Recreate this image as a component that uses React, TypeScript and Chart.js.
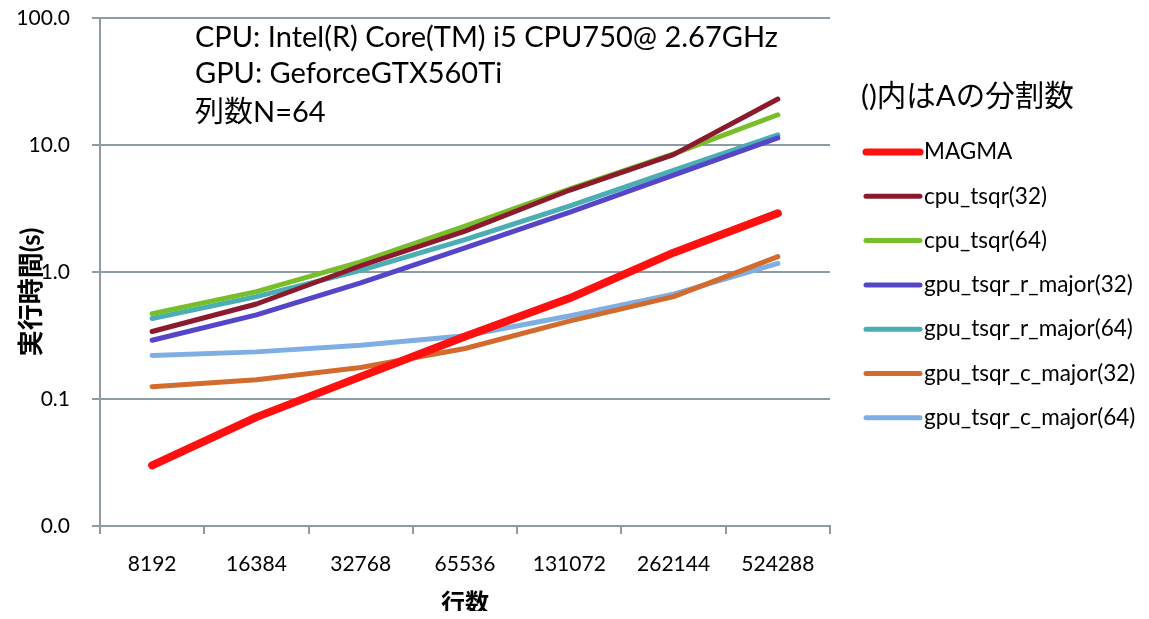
import React, { useEffect, useRef } from "react";
import { Chart, registerables } from "chart.js";

Chart.register(...registerables);

const categories = ["8192", "16384", "32768", "65536", "131072", "262144", "524288"];

const magma = [0.030, 0.072, 0.15, 0.31, 0.62, 1.42, 2.9];
const cpuTsqr32 = [0.34, 0.56, 1.12, 2.1, 4.4, 8.4, 23];
const cpuTsqr64 = [0.47, 0.70, 1.2, 2.3, 4.5, 8.5, 17.3];
const gpuR32 = [0.29, 0.46, 0.82, 1.55, 2.95, 5.8, 11.4];
const gpuR64 = [0.43, 0.64, 1.03, 1.8, 3.3, 6.3, 12.0];
const gpuC32 = [0.125, 0.142, 0.177, 0.25, 0.41, 0.64, 1.32];
const gpuC64 = [0.22, 0.235, 0.265, 0.315, 0.45, 0.67, 1.17];

const seriesNames = [
  "MAGMA",
  "cpu_tsqr(32)",
  "cpu_tsqr(64)",
  "gpu_tsqr_r_major(32)",
  "gpu_tsqr_r_major(64)",
  "gpu_tsqr_c_major(32)",
  "gpu_tsqr_c_major(64)",
];
const seriesColors = ["#ff1010", "#8b1a2e", "#78bd2a", "#5545c8", "#4aaeb4", "#d46b2e", "#7eaee4"];
const seriesWidths = [8, 5, 5, 5, 5, 5, 5];
const seriesValues = [magma, cpuTsqr32, cpuTsqr64, gpuR32, gpuR64, gpuC32, gpuC64];

const yTicks = [0.01, 0.1, 1, 10, 100];
const annotationLines = ["CPU: Intel(R) Core(TM) i5 CPU750@ 2.67GHz", "GPU: GeforceGTX560Ti", "列数N=64"];
const legendTitle = "()内はAの分割数";
const xTitle = "行数";
const yTitle = "実行時間(s)";

const FONT = "Lato, 'Noto Sans CJK JP', sans-serif";
const GRID = "#8d9ca2";

export default function App() {
  const ref = useRef<HTMLCanvasElement | null>(null);
  useEffect(() => {
    const canvas = ref.current;
    if (!canvas) return;
    const overlay = {
      id: "overlay",
      afterDraw(chart: any) {
        const ctx = chart.ctx;
        ctx.save();
        ctx.fillStyle = "#000";
        ctx.textBaseline = "middle";
        ctx.textAlign = "left";
        ctx.font = `29px ${FONT}`;
        const ay = [30, 66, 105];
        annotationLines.forEach((t, i) => ctx.fillText(t, 187, ay[i]));
        ctx.font = `29.5px ${FONT}`;
        ctx.fillText(legendTitle, 853, 88);
        ctx.font = `22.5px ${FONT}`;
        chart.data.datasets.forEach((ds: any, i: number) => {
          const y = 144 + i * 44.3;
          ctx.strokeStyle = ds.borderColor;
          ctx.lineWidth = Math.min(ds.borderWidth, 7);
          ctx.lineCap = "round";
          ctx.beginPath();
          ctx.moveTo(858, y);
          ctx.lineTo(912, y);
          ctx.stroke();
          ctx.fillStyle = "#000";
          ctx.fillText(ds.label, 916, y);
        });
        // x-axis title
        const area = chart.chartArea;
        ctx.textAlign = "center";
        ctx.font = `bold 24px ${FONT}`;
        ctx.fillText(xTitle, (area.left + area.right) / 2, 595);
        // y-axis title
        ctx.save();
        ctx.translate(24, 284);
        ctx.rotate(-Math.PI / 2);
        ctx.textAlign = "center";
        ctx.font = `bold 26px ${FONT}`;
        ctx.fillStyle = "#000";
        ctx.fillText(yTitle, 0, 0);
        ctx.restore();
        ctx.restore();
      },
    };
    const chart = new Chart(canvas, {
      type: "line",
      data: {
        labels: categories,
        datasets: seriesNames.map((name, i) => ({
          label: name,
          data: seriesValues[i],
          borderColor: seriesColors[i],
          backgroundColor: seriesColors[i],
          borderWidth: seriesWidths[i],
          borderCapStyle: "round",
          borderJoinStyle: "round",
          pointRadius: 0,
          tension: 0,
        })),
      },
      options: {
        animation: false,
        responsive: false,
        layout: { padding: { left: 0, right: 311, top: 10, bottom: 0 } },
        plugins: { legend: { display: false }, tooltip: { enabled: false } },
        scales: {
          x: {
            type: "category",
            offset: true,
            grid: {
              offset: true,
              drawOnChartArea: false,
              drawTicks: true,
              tickLength: 8,
              color: GRID,
              lineWidth: 2,
            },
            border: { display: true, color: GRID, width: 2 },
            ticks: { color: "#000", font: { family: FONT, size: 21 }, padding: 18, maxRotation: 0 },
            title: { display: false },
            afterFit(scale: any) {
              scale.height = 93;
              scale.paddingLeft = 0;
              scale.paddingRight = 0;
            },
          },
          y: {
            type: "logarithmic",
            min: 0.01,
            max: 100,
            afterBuildTicks(scale: any) {
              scale.ticks = yTicks.map((v) => ({ value: v }));
            },
            grid: { color: GRID, lineWidth: 2, tickLength: 8, drawTicks: true },
            border: { display: true, color: GRID, width: 2 },
            ticks: {
              color: "#000",
              font: { family: FONT, size: 21 },
              padding: 22,
              callback: (v: any) => Number(v).toFixed(1),
            },
            title: { display: false },
            afterFit(scale: any) {
              scale.width = 92;
              scale.paddingTop = 0;
              scale.paddingBottom = 0;
            },
          },
        },
      },
      plugins: [overlay],
    } as any);
    return () => chart.destroy();
  }, []);
  return (
    <div style={{ width: 1133, height: 603 }}>
      <canvas ref={ref} width={1133} height={611} style={{ display: "block" }} />
    </div>
  );
}
